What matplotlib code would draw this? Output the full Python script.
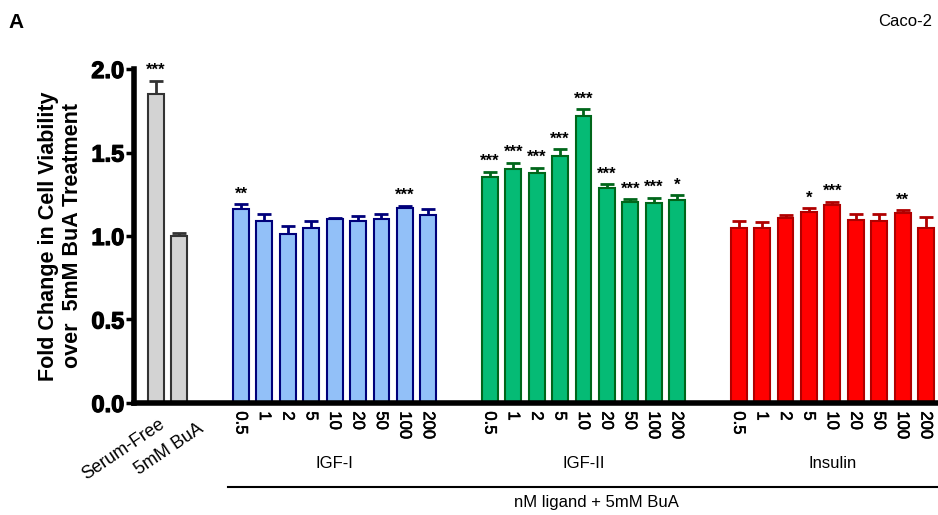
import numpy as np
import matplotlib
matplotlib.use('Agg')
import matplotlib.pyplot as plt
import matplotlib.transforms as mtransforms
import matplotlib.patheffects as pe

plt.rcParams['font.family'] = ['Liberation Sans', 'DejaVu Sans']

doses = ['0.5', '1', '2', '5', '10', '20', '50', '100', '200']

ctrl_labels = ['Serum-Free', '5mM BuA']
ctrl_vals = [1.85, 1.00]
ctrl_err = [0.08, 0.02]
ctrl_stars = ['***', '']

igf1_vals = [1.16, 1.09, 1.01, 1.05, 1.10, 1.09, 1.10, 1.165, 1.125]
igf1_err = [0.03, 0.04, 0.05, 0.04, 0.01, 0.03, 0.03, 0.015, 0.035]
igf1_stars = ['**', '', '', '', '', '', '', '***', '']

igf2_vals = [1.355, 1.40, 1.375, 1.48, 1.72, 1.29, 1.205, 1.20, 1.215]
igf2_err = [0.03, 0.04, 0.035, 0.04, 0.04, 0.02, 0.015, 0.03, 0.03]
igf2_stars = ['***', '***', '***', '***', '***', '***', '***', '***', '*']

ins_vals = [1.05, 1.045, 1.105, 1.145, 1.185, 1.095, 1.09, 1.14, 1.045]
ins_err = [0.04, 0.04, 0.02, 0.02, 0.02, 0.035, 0.04, 0.015, 0.07]
ins_stars = ['', '', '', '*', '***', '', '', '**', '']

groups = [
    ('IGF-I', igf1_vals, igf1_err, igf1_stars, '#92c0f8', '#00007a'),
    ('IGF-II', igf2_vals, igf2_err, igf2_stars, '#05bb75', '#00661a'),
    ('Insulin', ins_vals, ins_err, ins_stars, '#ff0000', '#b00000'),
]

gap = 2.63
width = 0.68

fig = plt.figure(figsize=(9.38, 5.15), dpi=100)
ax = fig.add_axes([0.1429, 0.2175, 0.857, 0.6485])


def draw(ax, xs, vals, errs, stars, fc, ec):
    ax.bar(xs, vals, width=width, color=fc, edgecolor=ec, linewidth=1.5, zorder=2)
    ax.errorbar(xs, vals, yerr=[np.zeros(len(vals)), errs], fmt='none',
                ecolor=ec, elinewidth=2, capsize=5, capthick=2, zorder=1)
    for x, v, e, s in zip(xs, vals, errs, stars):
        if s:
            ax.annotate(s, (x, v + e), xytext=(0, 2), textcoords='offset points',
                        ha='center', va='bottom', fontsize=12, fontweight='bold')


xs = np.arange(2)
draw(ax, xs, ctrl_vals, ctrl_err, ctrl_stars, '#d3d3d3', '#333333')
all_x = list(xs)
all_lab = [''] * 2
centers = []
start = 1 + gap
for name, vals, err, stars, fc, ec in groups:
    gx = start + np.arange(len(vals))
    draw(ax, gx, vals, err, stars, fc, ec)
    all_x += list(gx)
    all_lab += doses
    centers.append((name, gx.mean()))
    start = gx[-1] + gap

ax.set_xlim(-0.94, 33.4)
ax.set_ylim(0, 2.0)
ax.set_yticks([0, 0.5, 1.0, 1.5, 2.0])
ax.set_yticklabels(['0.0', '0.5', '1.0', '1.5', '2.0'], fontsize=17, fontweight='bold')
for t in ax.get_yticklabels():
    t.set_path_effects([pe.withStroke(linewidth=0.9, foreground='black')])
ax.set_xticks(all_x)
ax.set_xticklabels(all_lab, rotation=-90, fontsize=12, va='top')
for t in ax.get_xticklabels():
    t.set_path_effects([pe.withStroke(linewidth=0.4, foreground='black')])
ax.tick_params(axis='x', length=0, pad=6)
ax.tick_params(axis='y', length=6, width=2.5, pad=1)
for sp in ['top', 'right']:
    ax.spines[sp].set_visible(False)
ax.spines['left'].set_linewidth(4)
ax.spines['bottom'].set_linewidth(4)

ax.set_ylabel('Fold Change in Cell Viability\nover  5mM BuA Treatment',
              fontsize=15.5, fontweight='bold', labelpad=6)

trans = mtransforms.blended_transform_factory(ax.transData, fig.transFigure)
ctrl_anchor = [(0.1, 416), (1.75, 420)]
for (dx, py), lab in zip(ctrl_anchor, ctrl_labels):
    ax.text(dx, 1 - py / 515, lab, transform=trans, rotation=34,
            ha='right', va='top', fontsize=13, rotation_mode='anchor')
for name, cx in centers:
    ax.text(cx, 1 - 464 / 515, name, transform=trans, ha='center', va='center',
            fontsize=12, fontstretch='condensed')
ax.plot([3.08, 33.4], [1 - 487 / 515] * 2, transform=trans, color='black',
        linewidth=1.5, clip_on=False)
ax.text(18.8, 1 - 502 / 515, 'nM ligand + 5mM BuA', transform=trans,
        ha='center', va='center', fontsize=12)

fig.text(8 / 938, 1 - 22 / 515, 'A', fontsize=15, fontweight='bold', va='center')
fig.text(932 / 938, 1 - 22 / 515, 'Caco-2', fontsize=12, ha='right', va='center')

fig.savefig('out.png', dpi=100)
